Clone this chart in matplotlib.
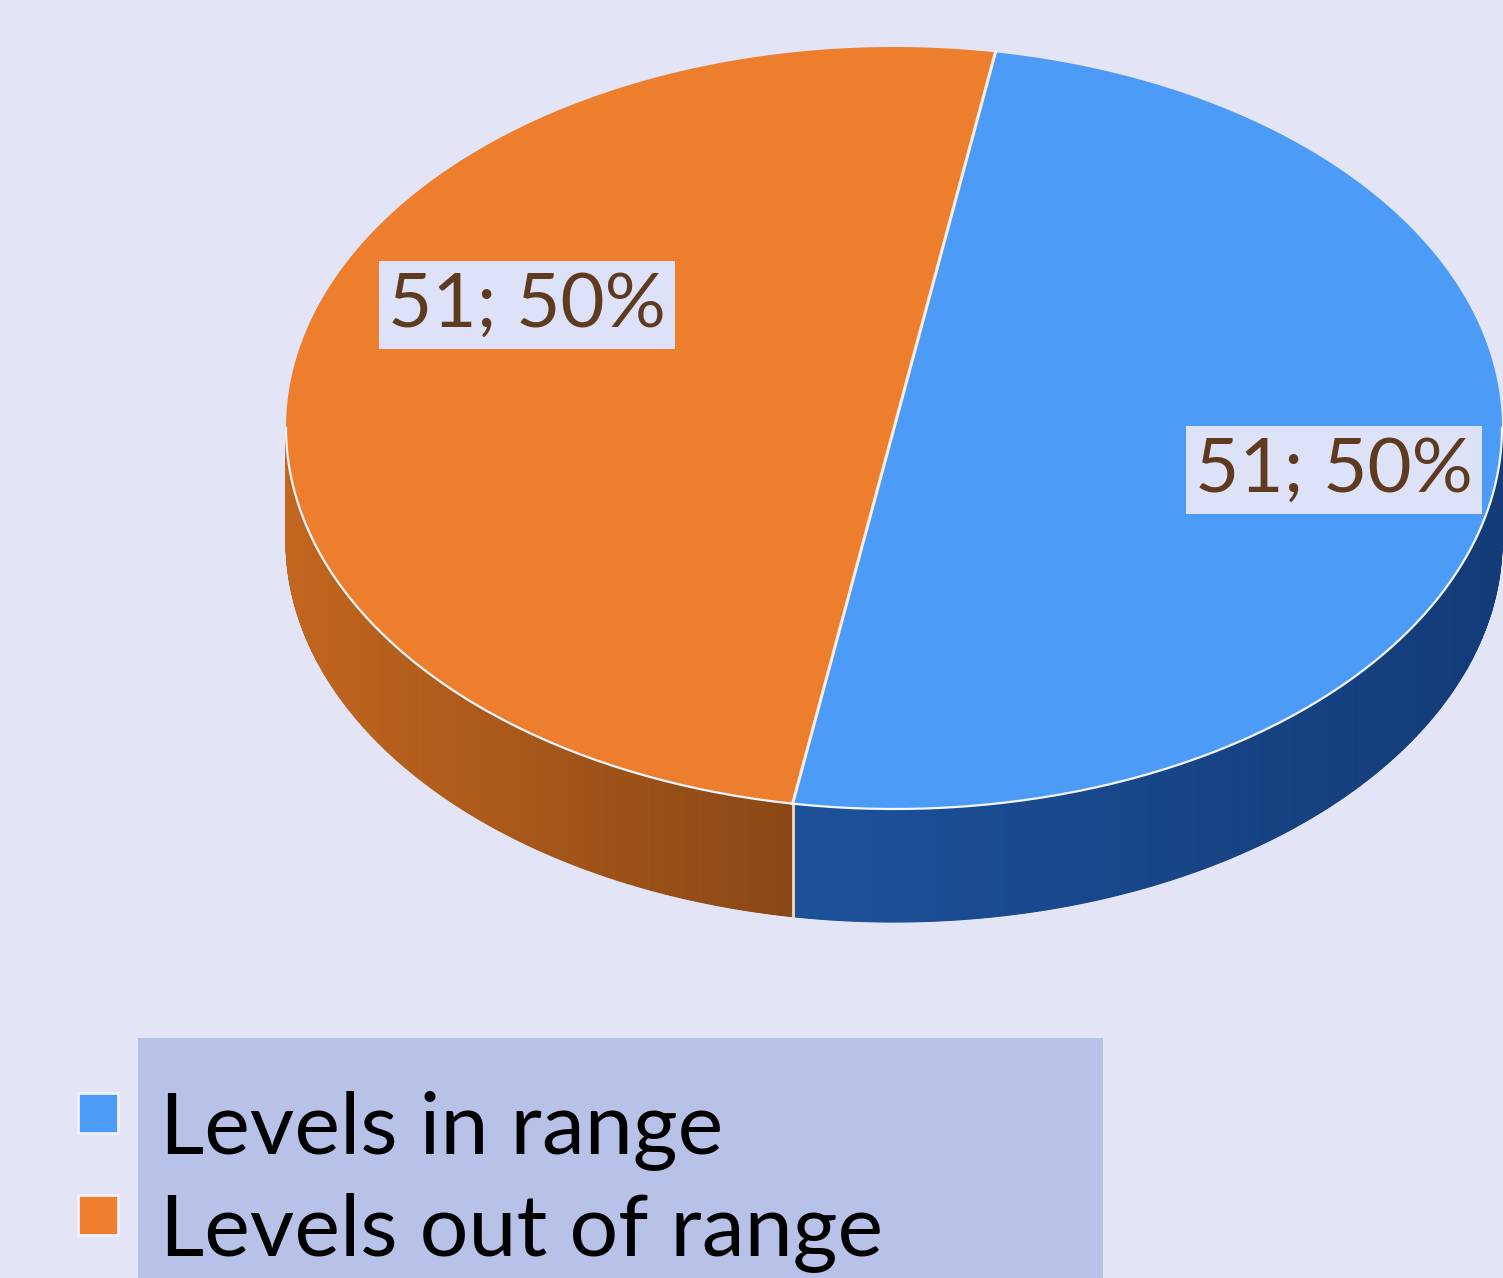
import numpy as np
import matplotlib
matplotlib.use("Agg")
import matplotlib.pyplot as plt
from matplotlib.patches import Polygon, Rectangle
from matplotlib.colors import to_rgb

# data
categories = ["Levels in range", "Levels out of range"]
counts = [51, 51]

top_colors = ["#4C9CF7", "#EC7E2E"]
# side shading: (colour near the left end, colour near the right end)
side_colors = [("#1C519A", "#133B77"), ("#C2661F", "#8A4715")]
label_pos = [(1334, 470), (527, 305)]

# layout of the 3d pie, in pixels
W, H = 1503, 1278
cx, cy = 894, 428
ra, rb = 608, 381
depth = 113
start_deg = 80.4

fig = plt.figure(figsize=(W / 100, H / 100), dpi=100)
fig.patch.set_facecolor("#E3E4F6")
ax = fig.add_axes([0, 0, 1, 1])
ax.set_xlim(0, W)
ax.set_ylim(H, 0)
ax.axis("off")


def ell(theta_deg, dz=0.0):
    t = np.radians(theta_deg)
    return cx + ra * np.cos(t), cy - rb * np.sin(t) + dz


def mix(c1, c2, f):
    a, b = np.array(to_rgb(c1)), np.array(to_rgb(c2))
    return tuple(a + (b - a) * f)


total = float(sum(counts))
fracs = [c / total for c in counts]
angles = []
a0 = start_deg
for f in fracs:
    a1 = a0 - 360 * f
    angles.append((a1, a0))  # clockwise
    a0 = a1

# sides: only the front half (sin < 0) is visible
for (lo, hi), (c_left, c_right) in zip(angles, side_colors):
    ts = np.linspace(lo, hi, 721)
    strips = [(ts[i], ts[i + 1]) for i in range(len(ts) - 1)
              if np.sin(np.radians(0.5 * (ts[i] + ts[i + 1]))) < 0]
    if not strips:
        continue
    xs = [ell(0.5 * (t0 + t1))[0] for t0, t1 in strips]
    xmin, xmax = min(xs), max(xs)
    for (t0, t1), xm in zip(strips, xs):
        x0, y0 = ell(t0)
        x1, y1 = ell(t1)
        col = mix(c_left, c_right, (xm - xmin) / max(xmax - xmin, 1))
        quad = [(x0, y0), (x1, y1), (x1, y1 + depth), (x0, y0 + depth)]
        ax.add_patch(Polygon(quad, closed=True, facecolor=col, edgecolor=col, lw=0.8))

# split edge on the side
x_s, y_s = ell(start_deg - 180)
ax.plot([x_s, x_s], [y_s, y_s + depth], color="#F2D9C8", lw=2.0)

# tops
for (lo, hi), col in zip(angles, top_colors):
    ts = np.linspace(hi, lo, 200)
    pts = [(cx, cy)] + [ell(t) for t in ts]
    ax.add_patch(Polygon(pts, closed=True, facecolor=col, edgecolor="none"))

# white edges: split line and front rim
xa, ya = ell(start_deg)
xb, yb = ell(start_deg - 180)
ax.plot([xa, xb], [ya, yb], color="#FBEDE2", lw=2.2)
ts = np.linspace(-180, 0, 200)
rim = np.array([ell(t) for t in ts])
ax.plot(rim[:, 0], rim[:, 1], color="#F4F6FF", lw=1.6)

# data labels
for c, f, (lx, ly) in zip(counts, fracs, label_pos):
    ax.text(lx, ly, f"{c}; {f * 100:.0f}%", fontsize=55, family="Lato",
            color="#5E3A1E", ha="center", va="center",
            bbox=dict(boxstyle="square,pad=0.12", facecolor="#DDE2F8", edgecolor="none"))

# legend
ax.add_patch(Rectangle((138, 1038), 965, 245, facecolor="#B8C1E8", edgecolor="none"))
leg_base = [1153, 1255]
for name, col, yb_ in zip(categories, top_colors, leg_base):
    ax.add_patch(Rectangle((78, yb_ - 60), 40, 40, facecolor=col, edgecolor="#EEF0FF", lw=2))
    ax.text(160, yb_, name, fontsize=62, family="Lato",
            color="black", ha="left", va="baseline")

fig.savefig("out.png", dpi=100, facecolor=fig.get_facecolor())
